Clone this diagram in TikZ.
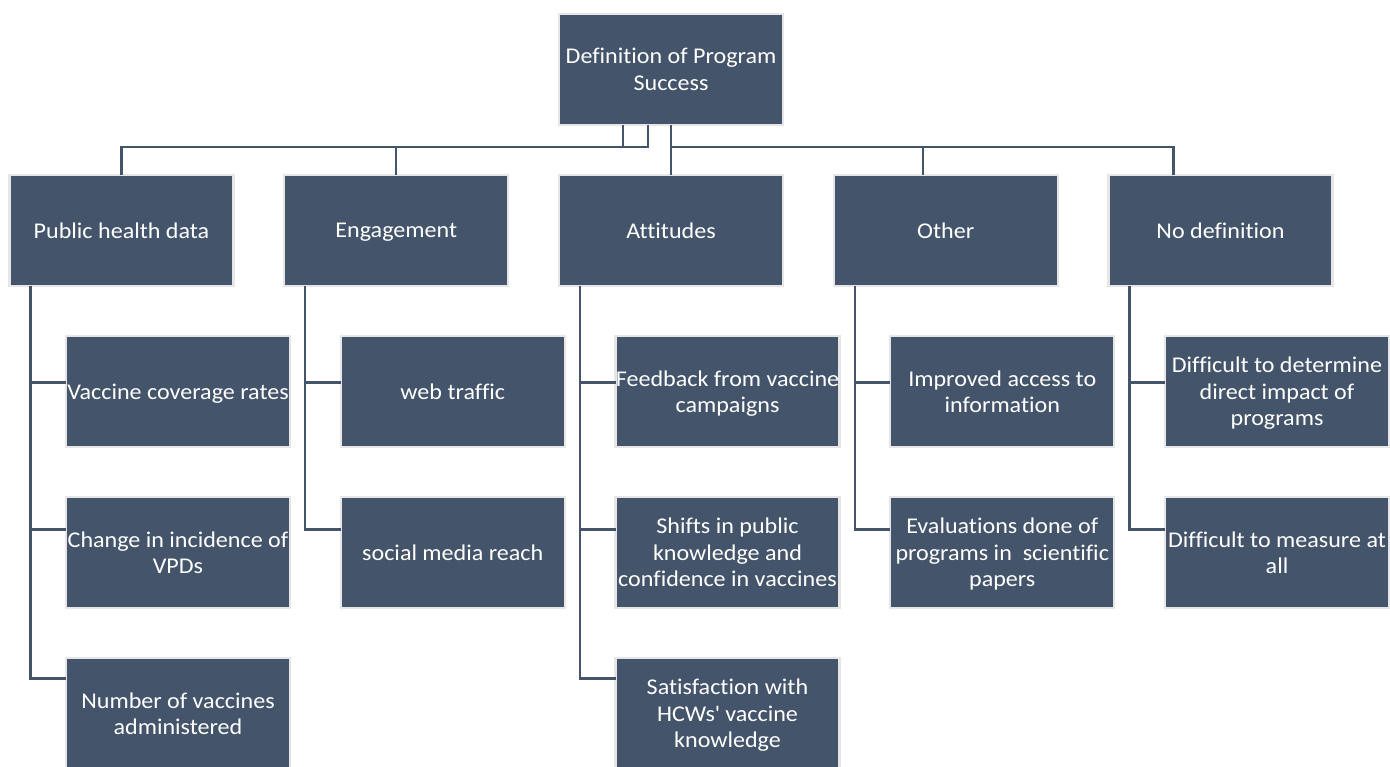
\documentclass[tikz,border=0pt]{standalone}
\usepackage{fontspec}
\setmainfont{Carlito}[FakeStretch=1.07, Ligatures=NoCommon]
\usetikzlibrary{positioning}
\definecolor{slate}{HTML}{44546A}
\definecolor{rim}{HTML}{E7E6E6}

\begin{document}
\begin{tikzpicture}[
  node distance=50pt and 50.75pt,
  box/.style={draw=rim, fill=slate, line width=2.4pt, text=white, outer sep=0pt, inner sep=0pt,
    minimum width=224pt, minimum height=111pt, align=center, text depth=0pt,
    font=\fontsize{22.5}{26.5}\selectfont},
  link/.style={draw=slate, line width=2.4pt},
]
\useasboundingbox (0,0) rectangle (1390pt,-767pt);

% --- root and first level ---
\node[box] (root) at (671pt,-69.5pt) {Definition of Program\\Success};
\node[box, below=of root] (att) {Attitudes};
\node[box, left=of att] (eng) {Engagement};
\node[box, left=of eng] (pub) {Public health data};
\node[box, right=of att] (oth) {Other};
\node[box, right=of oth] (nod) {No definition};

% --- second level ---
\node[box, below=of pub, xshift=56.5pt] (pub1) {Vaccine coverage rates};
\node[box, below=of pub1] (pub2) {Change in incidence of\\VPDs};
\node[box, below=of pub2] (pub3) {Number of vaccines\\administered};

\node[box, below=of eng, xshift=56.5pt] (eng1) {web traffic};
\node[box, below=of eng1] (eng2) {social media reach};

\node[box, below=of att, xshift=56.5pt] (att1) {Feedback from vaccine\\campaigns};
\node[box, below=of att1] (att2) {Shifts in public\\knowledge and\\confidence in vaccines};
\node[box, below=of att2] (att3) {Satisfaction with\\HCWs\textquotesingle{} vaccine\\knowledge};

\node[box, below=of oth, xshift=56.5pt] (oth1) {Improved access to\\information};
\node[box, below=of oth1] (oth2) {Evaluations done of\\programs in\ \ scientific\\papers};

\node[box, below=of nod, xshift=56.5pt] (nod1) {Difficult to determine\\direct impact of\\programs};
\node[box, below=of nod1] (nod2) {Difficult to measure at\\all};

% --- root connectors ---
\draw[link] ([xshift=-48pt]root.south) -- ++(0,-22pt) -| (pub.north);
\draw[link] ([xshift=-23pt]root.south) -- ++(0,-22pt) -| (eng.north);
\draw[link] (root.south) -- (att.north);
\draw[link] ([yshift=-22pt]root.south) -| ([xshift=-23pt]oth.north);
\draw[link] ([yshift=-22pt]root.south) -| ([xshift=-47pt]nod.north);

% --- child connectors ---
\draw[link] ([xshift=21pt]pub.south west) |- ([yshift=9pt]pub1.west);
\draw[link] ([xshift=21pt]pub.south west) |- ([yshift=23pt]pub2.west);
\draw[link] ([xshift=21pt]pub.south west) |- ([yshift=35pt]pub3.west);

\draw[link] ([xshift=21pt]eng.south west) |- ([yshift=9pt]eng1.west);
\draw[link] ([xshift=21pt]eng.south west) |- ([yshift=23pt]eng2.west);

\draw[link] ([xshift=21pt]att.south west) |- ([yshift=9pt]att1.west);
\draw[link] ([xshift=21pt]att.south west) |- ([yshift=23pt]att2.west);
\draw[link] ([xshift=21pt]att.south west) |- ([yshift=35pt]att3.west);

\draw[link] ([xshift=21pt]oth.south west) |- ([yshift=9pt]oth1.west);
\draw[link] ([xshift=21pt]oth.south west) |- ([yshift=23pt]oth2.west);

\draw[link] ([xshift=21pt]nod.south west) |- ([yshift=9pt]nod1.west);
\draw[link] ([xshift=21pt]nod.south west) |- ([yshift=23pt]nod2.west);

\end{tikzpicture}
\end{document}
